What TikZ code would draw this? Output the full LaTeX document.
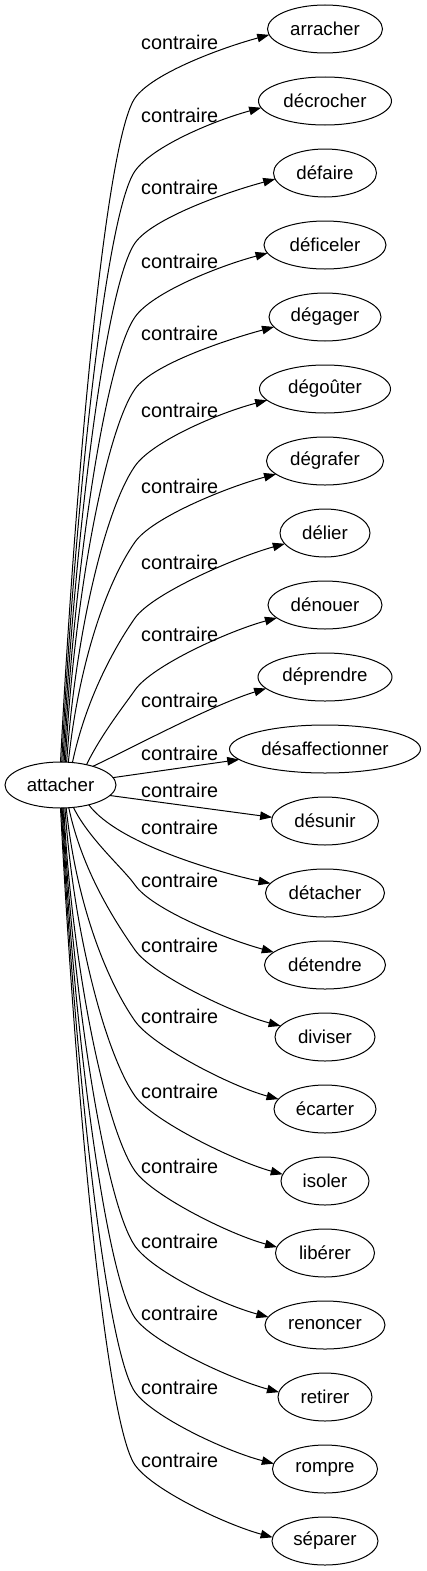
\documentclass[tikz,border=0pt]{standalone}
\usepackage{fontspec}
\setmainfont{Liberation Sans}
\usetikzlibrary{shapes.geometric,arrows.meta}
\begin{document}
\begin{tikzpicture}[x=1pt,y=-1pt,
  word/.style={draw, ellipse, inner sep=0pt, outer sep=0pt, minimum height=48pt, line width=1pt, font=\fontsize{18.67}{22}\selectfont},
  lab/.style={anchor=west, inner sep=0pt, font=\fontsize{19.8}{22}\selectfont},
  conn/.style={line width=1pt, -{Triangle[length=12pt,width=8.5pt]}}]
\useasboundingbox (0,0) rectangle (426,1571);
\node[word, minimum width=111pt, minimum height=46pt] (root) at (60.5,785) {attacher};
\foreach \i/\w/\t in {0/115/arracher, 1/133/décrocher, 2/103/défaire, 3/122/déficeler,
  4/112/dégager, 5/131/dégoûter, 6/117/dégrafer, 7/90/délier, 8/114/dénouer,
  9/134/déprendre, 10/191/désaffectionner, 11/107/désunir, 12/119/détacher,
  13/121/détendre, 14/100/diviser, 15/102/écarter, 16/88/isoler, 17/99/libérer,
  18/120/renoncer, 19/94/retirer, 20/105/rompre, 21/106/séparer}{
  \node[word, minimum width=\w pt] (n\i) at (325, 29+72*\i) {\t};
}
\foreach \L [count=\i from 0] in {42,115,187,261,333,410,486,562,634,700,753,790,827,880,945,1016,1091,1166,1241,1313,1387,1460}{
  \node[lab] (l\i) at (141,\L) {contraire};
}
% upper edges
\foreach \i/\sa/\L/\dy/\rx/\ph in {0/90/42/6/57.5/87, 1/87/115/7/66.5/87, 2/84/187/6/51.5/87, 3/81/261/8/61/87,
  4/78/333/10/56/87, 5/75/410/11/65.5/86, 6/71/486/13/58.5/84, 7/62/562/11/45/78, 8/38/634/13/57/64}{
  \pgfmathsetmacro\Y{29+72*\i}
  \pgfmathsetmacro\tr{55.5*23/sqrt((23*cos(\sa))^2+(55.5*sin(\sa))^2)}
  \pgfmathsetmacro\sx{60.5+\tr*cos(\sa)}
  \pgfmathsetmacro\sy{785-\tr*sin(\sa)}
  \pgfmathsetmacro\hx{\rx*sqrt(1-(\dy/24)^2)}
  \pgfmathsetmacro\ex{325-\hx}
  \pgfmathsetmacro\ey{\Y+\dy}
  \pgfmathtruncatemacro\ea{round(180+atan(\dy/\hx))}
  \pgfmathsetmacro\qy{\L+56}
  \pgfmathsetmacro\vd{\sy-\qy}
  \pgfmathsetmacro\da{0.45*\vd}
  \pgfmathsetmacro\db{min(0.25*\vd,50)}
  \draw[conn] (root.\sa) .. controls ({\sx+cos(\ph)*\da},{\sy-sin(\ph)*\da}) and ({135-0.574*\db},{\qy+0.819*\db}) .. (135,\qy)
    .. controls ({135+0.574*30},{\qy-0.819*30}) and ({\ex-0.966*50},{\ey+0.259*50}) .. (n\i.\ea);
}
% lower edges
\foreach \i/\sa/\L/\dy/\rx/\ph in {13/-60/880/13/60.5/64, 14/-70/945/11/50/78, 15/-76/1016/10/51/84,
  16/-79/1091/7/44/86, 17/-82/1166/6/49.5/87, 18/-84/1241/8/60/87, 19/-86/1313/5/47/87,
  20/-88/1387/5/52.5/87, 21/-90/1460/4/53/87}{
  \pgfmathsetmacro\Y{29+72*\i}
  \pgfmathsetmacro\tr{55.5*23/sqrt((23*cos(\sa))^2+(55.5*sin(\sa))^2)}
  \pgfmathsetmacro\sx{60.5+\tr*cos(\sa)}
  \pgfmathsetmacro\sy{785-\tr*sin(\sa)}
  \pgfmathsetmacro\hx{\rx*sqrt(1-(\dy/24)^2)}
  \pgfmathsetmacro\ex{325-\hx}
  \pgfmathsetmacro\ey{\Y-\dy}
  \pgfmathtruncatemacro\ea{round(180-atan(\dy/\hx))}
  \pgfmathsetmacro\qy{\L+5}
  \pgfmathsetmacro\vd{\qy-\sy}
  \pgfmathsetmacro\da{0.45*\vd}
  \pgfmathsetmacro\db{min(0.25*\vd,50)}
  \draw[conn] (root.\sa) .. controls ({\sx+cos(\ph)*\da},{\sy+sin(\ph)*\da}) and ({135-0.574*\db},{\qy-0.819*\db}) .. (135,\qy)
    .. controls ({135+0.574*30},{\qy+0.819*30}) and ({\ex-0.966*50},{\ey-0.259*50}) .. (n\i.\ea);
}
% special edges
\draw[conn] (root.30) .. controls (129.2,749.4) and (210.7,705.5) .. (n9.191);
\draw[conn] (root.8) -- (n10.187);
\draw[conn] (root.-12) -- (n11.176);
\draw[conn] (root.-35) .. controls (118.8,844.8) and (222.9,873.5) .. (n12.170);
\end{tikzpicture}
\end{document}
